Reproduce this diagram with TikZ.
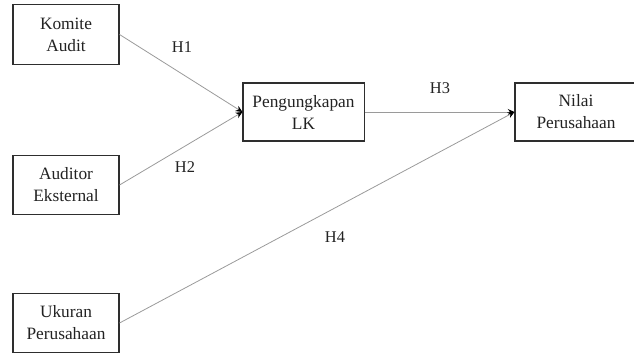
\documentclass[tikz,border=0pt]{standalone}
\usepackage{fontspec}
\setmainfont{Liberation Serif}
\usetikzlibrary{arrows.meta}

\begin{document}
\begin{tikzpicture}[x=0.75pt,y=-0.75pt,
  varbox/.style={draw=boxline,line width=0.8pt,align=center,text=txt,
    minimum width=79.5pt,minimum height=44.6pt,inner sep=0pt,
    font=\fontsize{13}{16.5}\selectfont},
  hyp/.style={draw=linegray,line width=0.6pt,-{Stealth[length=5pt,width=4.5pt,color=black]}},
  hlabel/.style={text=txt,font=\fontsize{12.3}{14}\selectfont}]
\definecolor{boxline}{HTML}{2E2E2E}
\definecolor{linegray}{HTML}{9A9A9A}
\definecolor{txt}{HTML}{222222}
\useasboundingbox (0,0) rectangle (634,354);
  % independent variables on the left
  \foreach \nm/\txt/\ypos in {komite/{Komite\\Audit}/34.5,auditor/{Auditor\\Eksternal}/185,ukuran/{Ukuran\\Perusahaan}/323}
  {  \node [varbox] (\nm) at (66,\ypos) {\txt};}
\node [varbox,minimum width=90.8pt,minimum height=43.5pt] (lk) at (303.5,112) {Pengungkapan\\LK};
\node [varbox,minimum width=91.5pt,minimum height=43.5pt] (nilai) at (576,112) {Nilai\\Perusahaan};
  % hypotheses
\draw [hyp] (komite.east) -- (lk.west);
\draw [hyp] (auditor.east) -- (lk.west);
\draw [hyp] (lk.east) -- (nilai.west);
\draw [hyp] (ukuran.east) -- (nilai.west);
\node [hlabel] (h1) at (182,47) {H1};
\node [hlabel] (h2) at (185,167) {H2};
\node [hlabel] (h3) at (440,88) {H3};
\node [hlabel] (h4) at (335,237) {H4};
\end{tikzpicture}
\end{document}
